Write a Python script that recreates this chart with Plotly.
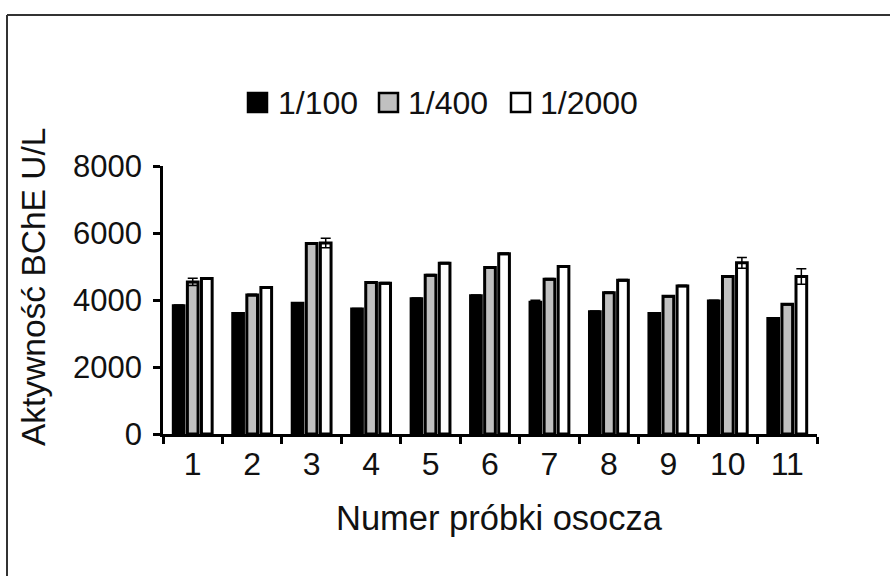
import plotly.graph_objects as go

categories = [str(i) for i in range(1, 12)]
series_names = ["1/100", "1/400", "1/2000"]
vals_100 = [3830, 3600, 3900, 3730, 4040, 4130, 3930, 3650, 3600, 3970, 3450]
vals_400 = [4540, 4150, 5690, 4520, 4740, 4970, 4620, 4220, 4110, 4700, 3870]
vals_2000 = [4640, 4370, 5700, 4500, 5100, 5380, 5000, 4590, 4420, 5110, 4700]
err_100 = [20, 20, 20, 20, 20, 20, 60, 20, 20, 20, 20]
err_400 = [110, 20, 20, 20, 20, 20, 20, 20, 20, 20, 20]
err_2000 = [20, 20, 140, 20, 20, 20, 20, 20, 20, 160, 230]
y_ticks = [0, 2000, 4000, 6000, 8000]

fills = ["#000000", "#c0c0c0", "#ffffff"]
FONT = "Liberation Sans, Arial, sans-serif"

W, H = 890, 576
L, R, T, B = 163, 817, 166, 434  # plot area pixels


def px(x):
    return (x - L) / (R - L)


def py(y):
    return (B - y) / (B - T)


fig = go.Figure()
for name, vals, errs, fc in zip(series_names, [vals_100, vals_400, vals_2000],
                                [err_100, err_400, err_2000], fills):
    fig.add_trace(go.Bar(
        x=categories, y=vals, name=name,
        marker=dict(color=fc, line=dict(color="#000000", width=3)),
        error_y=dict(type="data", array=errs, visible=True, color="#000000",
                     thickness=1.5, width=5),
        showlegend=False,
    ))

shapes = [
    # outer frame (left and top edges)
    dict(type="line", xref="paper", yref="paper", x0=px(7), x1=px(7), y0=py(15), y1=py(600),
         line=dict(color="#333333", width=2)),
    dict(type="line", xref="paper", yref="paper", x0=px(7), x1=px(900), y0=py(15), y1=py(15),
         line=dict(color="#333333", width=2)),
]
annotations = []
legend_pos = [(247, 276), (378, 406), (510, 538)]
for (sx, tx), name, fc in zip(legend_pos, series_names, fills):
    shapes.append(dict(type="rect", xref="paper", yref="paper",
                       x0=px(sx + 1), x1=px(sx + 20), y0=py(93), y1=py(112),
                       fillcolor=fc, line=dict(color="#000000", width=2.5)))
    annotations.append(dict(text=name, xref="paper", yref="paper", x=px(tx), y=py(103),
                            xanchor="left", yanchor="middle", showarrow=False,
                            font=dict(family=FONT, size=32, color="#111111")))

annotations.append(dict(text="Numer próbki osocza", xref="paper", yref="paper",
                        x=px(499), y=py(518), xanchor="center", yanchor="middle",
                        showarrow=False, font=dict(family=FONT, size=34.5, color="#111111")))
annotations.append(dict(text="Aktywność BChE U/L", xref="paper", yref="paper",
                        x=px(33), y=py(287), xanchor="center", yanchor="middle",
                        textangle=-90, showarrow=False,
                        font=dict(family=FONT, size=33.5, color="#111111")))

fig.update_layout(
    width=W, height=H,
    margin=dict(l=L, r=W - R, t=T, b=H - B, pad=0),
    paper_bgcolor="white", plot_bgcolor="white",
    barmode="group", bargap=0.29, bargroupgap=0.24,
    shapes=shapes, annotations=annotations,
    font=dict(family=FONT, color="#111111"),
)
fig.update_xaxes(
    type="category", range=[-0.5, 10.5], showline=True, linecolor="#000000", linewidth=2.5,
    ticks="outside", tickson="boundaries", ticklen=7, tickwidth=2.5, tickcolor="#000000",
    tickfont=dict(family=FONT, size=32, color="#111111"), showgrid=False, zeroline=False,
)
fig.update_yaxes(
    range=[0, 8000], tickvals=y_ticks, showline=True, linecolor="#000000", linewidth=2.5,
    ticks="outside", ticklen=7, tickwidth=2.5, tickcolor="#000000", ticklabelstandoff=5,
    tickfont=dict(family=FONT, size=31, color="#111111"), showgrid=False, zeroline=False,
)
fig.write_html("out.html", config={"displayModeBar": False},
               post_script="document.body.style.margin='0';")
